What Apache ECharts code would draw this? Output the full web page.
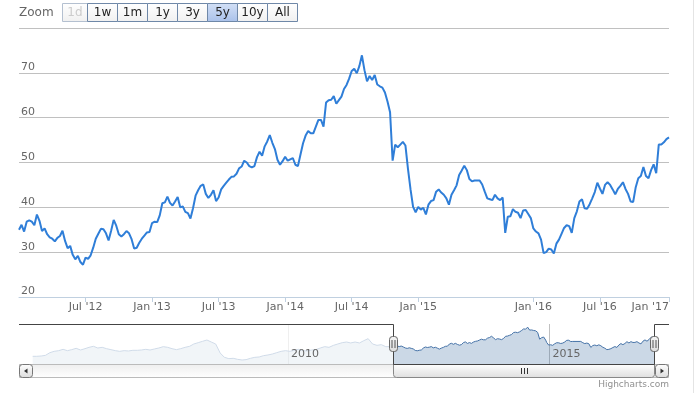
<!DOCTYPE html>
<html><head><meta charset="utf-8">
<script src="https://cdn.jsdelivr.net/npm/echarts@6/dist/echarts.min.js"></script>
<style>html,body{margin:0;padding:0;background:#fff}#c{width:695px;height:393px}</style>
</head><body><div id="c"></div>
<script>
// ---- weekly dates (ordinal axis, mid-2015 data gap) ----
const dates = [
'2012-01-06','2012-01-13','2012-01-20','2012-01-27','2012-02-03','2012-02-10','2012-02-17','2012-02-24','2012-03-02','2012-03-09','2012-03-16','2012-03-23','2012-03-30','2012-04-06','2012-04-13','2012-04-20','2012-04-27','2012-05-04','2012-05-11','2012-05-18','2012-05-25','2012-06-01','2012-06-08','2012-06-15','2012-06-22','2012-06-29','2012-07-06','2012-07-13','2012-07-20','2012-07-27','2012-08-03','2012-08-10','2012-08-17','2012-08-24','2012-08-31','2012-09-07','2012-09-14','2012-09-21','2012-09-28','2012-10-05','2012-10-12','2012-10-19','2012-10-26','2012-11-02','2012-11-09','2012-11-16','2012-11-23','2012-11-30','2012-12-07','2012-12-14','2012-12-21','2012-12-28',
'2013-01-04','2013-01-11','2013-01-18','2013-01-25','2013-02-01','2013-02-08','2013-02-15','2013-02-22','2013-03-01','2013-03-08','2013-03-15','2013-03-22','2013-03-29','2013-04-05','2013-04-12','2013-04-19','2013-04-26','2013-05-03','2013-05-10','2013-05-17','2013-05-24','2013-05-31','2013-06-07','2013-06-14','2013-06-21','2013-06-28','2013-07-05','2013-07-12','2013-07-19','2013-07-26','2013-08-02','2013-08-09','2013-08-16','2013-08-23','2013-08-30','2013-09-06','2013-09-13','2013-09-20','2013-09-27','2013-10-04','2013-10-11','2013-10-18','2013-10-25','2013-11-01','2013-11-08','2013-11-15','2013-11-22','2013-11-29','2013-12-06','2013-12-13','2013-12-20','2013-12-27',
'2014-01-03','2014-01-10','2014-01-17','2014-01-24','2014-01-31','2014-02-07','2014-02-14','2014-02-21','2014-02-28','2014-03-07','2014-03-14','2014-03-21','2014-03-28','2014-04-04','2014-04-11','2014-04-18','2014-04-25','2014-05-02','2014-05-09','2014-05-16','2014-05-23','2014-05-30','2014-06-06','2014-06-13','2014-06-20','2014-06-27','2014-07-04','2014-07-11','2014-07-18','2014-07-25','2014-08-01','2014-08-08','2014-08-15','2014-08-22','2014-08-29','2014-09-05','2014-09-12','2014-09-19','2014-09-26','2014-10-03','2014-10-10','2014-10-17','2014-10-24','2014-10-31','2014-11-07','2014-11-14','2014-11-21','2014-11-28','2014-12-05','2014-12-12','2014-12-19','2014-12-26',
'2015-01-02','2015-01-09','2015-01-16','2015-01-23','2015-01-30','2015-02-06','2015-02-13','2015-02-20','2015-02-27','2015-03-06','2015-03-13','2015-03-20','2015-03-27','2015-04-03','2015-04-10','2015-04-17','2015-04-24','2015-05-01','2015-05-08','2015-05-15','2015-05-22','2015-05-29','2015-06-05','2015-06-12','2015-08-07','2015-08-14','2015-08-21','2015-08-28','2015-09-04','2015-09-11','2015-09-18','2015-09-25','2015-10-02','2015-10-09','2015-10-16','2015-10-23','2015-10-30','2015-11-06','2015-11-13','2015-11-20','2015-11-27','2015-12-04','2015-12-11','2015-12-18','2015-12-25',
'2016-01-01','2016-01-08','2016-01-15','2016-01-22','2016-01-29','2016-02-05','2016-02-12','2016-02-19','2016-02-26','2016-03-04','2016-03-11','2016-03-18','2016-03-25','2016-04-01','2016-04-08','2016-04-15','2016-04-22','2016-04-29','2016-05-06','2016-05-13','2016-05-20','2016-05-27','2016-06-03','2016-06-10','2016-06-17','2016-06-24','2016-07-01','2016-07-08','2016-07-15','2016-07-22','2016-07-29','2016-08-05','2016-08-12','2016-08-19','2016-08-26','2016-09-02','2016-09-09','2016-09-16','2016-09-23','2016-09-30','2016-10-07','2016-10-14','2016-10-21','2016-10-28','2016-11-04','2016-11-11','2016-11-18','2016-11-25','2016-12-02','2016-12-09','2016-12-16','2016-12-23','2016-12-30',
'2017-01-06'];

const prices = [
35.0,36.1,34.6,36.8,37.1,36.8,36.0,38.4,37.0,34.7,
35.3,34.0,33.3,33.0,32.4,33.2,33.6,34.8,32.5,30.9,
31.4,29.4,28.4,29.2,27.8,27.2,28.8,28.5,29.3,31.0,
33.0,34.1,35.2,35.1,34.2,32.6,34.8,37.2,35.9,34.0,
33.5,34.0,34.7,34.2,32.9,30.8,31.0,32.1,33.0,33.7,
34.4,34.5,36.5,36.8,36.7,38.2,40.9,41.1,42.4,41.0,
40.4,41.3,42.3,40.0,40.2,39.0,38.7,37.5,39.8,42.6,
43.8,44.8,45.1,43.0,42.1,42.8,43.8,41.4,42.2,44.0,
44.8,45.5,46.2,46.8,46.9,47.5,48.7,49.1,50.4,50.0,
49.2,48.9,49.2,51.2,52.4,51.5,53.6,54.7,56.1,54.4,
53.0,50.6,49.5,50.3,51.3,50.4,50.7,51.0,49.5,49.2,
51.8,54.3,56.0,57.0,56.5,56.5,58.0,59.5,59.5,58.0,
63.4,63.9,64.0,64.8,63.1,63.9,64.7,66.4,67.3,68.7,
70.4,70.9,69.9,71.5,73.9,70.6,68.1,69.3,68.4,69.5,
67.4,67.0,66.7,65.6,63.6,61.2,50.4,54.0,53.4,54.0,
54.6,53.8,48.6,44.0,40.1,38.9,40.1,39.5,39.9,38.4,
40.6,41.4,41.6,43.5,44.0,43.3,42.8,42.0,40.6,42.8,
43.8,44.9,47.2,48.2,49.3,48.3,46.3,45.8,46.0,46.0,
46.0,45.1,43.5,42.0,41.8,41.6,42.8,42.0,41.6,42.2,
34.3,37.9,38.0,39.6,39.0,38.8,37.6,39.3,39.4,38.5,
37.6,35.3,34.6,34.2,32.8,29.8,30.0,30.8,30.6,29.7,
31.9,32.8,34.1,35.4,36.0,35.8,34.3,37.6,39.1,41.3,
41.8,39.8,39.7,40.7,42.0,43.4,45.5,44.2,43.0,45.0,
45.6,45.0,44.0,42.9,44.1,44.8,45.6,44.1,43.0,41.3,
41.2,44.5,46.5,47.0,49.0,47.0,46.5,48.3,49.6,47.6,
54.0,54.0,54.5,55.2,55.6];

// ---- navigator history before the selected window (monthly) ----
const navEarlyDates = [
'2005-02-15','2005-03-15','2005-04-15','2005-05-15','2005-06-15','2005-07-15','2005-08-15','2005-09-15','2005-10-15','2005-11-15','2005-12-15',
'2006-01-15','2006-02-15','2006-03-15','2006-04-15','2006-05-15','2006-06-15','2006-07-15','2006-08-15','2006-09-15','2006-10-15','2006-11-15','2006-12-15',
'2007-01-15','2007-02-15','2007-03-15','2007-04-15','2007-05-15','2007-06-15','2007-07-15','2007-08-15','2007-09-15','2007-10-15','2007-11-15','2007-12-15',
'2008-01-15','2008-02-15','2008-03-15','2008-04-15','2008-05-15','2008-06-15','2008-07-15','2008-08-15','2008-09-15','2008-10-15','2008-11-15','2008-12-15',
'2009-01-15','2009-02-15','2009-03-15','2009-04-15','2009-05-15','2009-06-15','2009-07-15','2009-08-15','2009-09-15','2009-10-15','2009-11-15','2009-12-15',
'2010-01-15','2010-02-15','2010-03-15','2010-04-15','2010-05-15','2010-06-15','2010-07-15','2010-08-15','2010-09-15','2010-10-15','2010-11-15','2010-12-15',
'2011-01-15','2011-02-15','2011-03-15','2011-04-15','2011-05-15','2011-06-15','2011-07-15','2011-08-15','2011-09-15','2011-10-15','2011-11-15','2011-12-15'];
const navEarlyValues = [
17.0,17.0,17.6,18.9,24.1,26.7,28.0,30.6,28.0,30.0,
32.6,29.3,31.9,34.5,36.5,33.2,34.5,31.9,30.0,28.0,
26.7,28.0,27.4,28.7,28.7,29.3,30.6,29.3,31.3,33.2,
35.8,34.5,31.9,30.0,31.9,34.5,36.5,41.0,43.6,46.2,
48.8,44.9,41.0,23.5,15.0,12.4,13.1,11.1,9.8,10.5,
13.1,15.0,15.7,18.3,19.6,21.5,24.1,26.7,28.0,26.7,
28.7,30.6,28.0,27.4,29.3,30.0,33.2,35.8,34.5,38.4,
41.0,43.6,44.9,43.0,44.9,43.0,47.5,51.4,41.0,38.4,
39.7,35.8,36.0];

const navStart = '2005-02-10';
const navYearLines = ['2010-01-01','2015-01-01'];
const zoomButtons = ['1d','1w','1m','1y','3y','5y','10y','All'];
const selectedButton = '5y';
const disabledButton = '1d';
const monthNames = {'01':'Jan','07':'Jul'};

const FONT = 'DejaVu Sans';
const chart = echarts.init(document.getElementById('c'), null, {renderer:'canvas'});

function isHalfYear(index){
  if (index === 0) return false;
  const m = dates[index].slice(5,7);
  return (m === '01' || m === '07') && dates[index-1].slice(5,7) !== m;
}
function fmtLabel(v){
  return monthNames[v.slice(5,7)] + " '" + v.slice(2,4);
}
const T = d => echarts.time.parse(d).getTime();

const navData = navEarlyDates.map((d,i)=>[T(d), navEarlyValues[i]])
  .concat(dates.map((d,i)=>[T(d), prices[i]]));
const tMin = T(navStart);
const tMax = T(dates[dates.length-1]);
const yearTicks = navYearLines.map(T);

chart.setOption({
  animation:false,
  textStyle:{fontFamily:FONT},
  grid:[
    {left:19, right:26, top:28, height:269},
    {left:32, right:40, top:324, height:40}
  ],
  xAxis:[
    {type:'category', gridIndex:0, data:dates, boundaryGap:false,
     axisLine:{lineStyle:{color:'#C0D0E0'}},
     axisTick:{interval:isHalfYear, length:5, lineStyle:{color:'#C0D0E0'}},
     axisLabel:{interval:isHalfYear, formatter:fmtLabel, margin:5, color:'#666', fontSize:11, fontFamily:FONT, alignMaxLabel:'right'},
     splitLine:{show:false}},
    {type:'value', gridIndex:1, min:tMin, max:tMax, position:'bottom', scale:true,
     axisLine:{show:false}, axisTick:{show:false, customValues:yearTicks},
     axisLabel:{show:false}, splitLine:{show:true, lineStyle:{color:'#C0C0C0'}}},
    {type:'value', gridIndex:1, min:tMin, max:tMax, position:'bottom', scale:true, z:10,
     axisLine:{show:false}, axisTick:{show:false, customValues:yearTicks}, splitLine:{show:false},
     axisLabel:{customValues:yearTicks, inside:true, margin:4, align:'left', padding:[0,0,0,3],
       formatter:v => String(new Date(v).getFullYear()), color:'#666', fontSize:11, fontFamily:FONT}}
  ],
  yAxis:[
    {type:'value', gridIndex:0, min:20, max:80, interval:10,
     axisLine:{show:false}, axisTick:{show:false},
     axisLabel:{inside:true, margin:2, verticalAlign:'bottom', showMaxLabel:false, color:'#666', fontSize:11, fontFamily:FONT},
     splitLine:{lineStyle:{color:'#C0C0C0'}}},
    {type:'value', gridIndex:1, min:2, max:80, show:false, splitLine:{show:false}}
  ],
  series:[
    {type:'line', xAxisIndex:0, yAxisIndex:0, data:prices, showSymbol:false,
     lineStyle:{color:'#2f7ed8', width:2}, z:3},
    {type:'line', xAxisIndex:1, yAxisIndex:1, data:navData, showSymbol:false,
     lineStyle:{color:'#4572A7', width:1}, areaStyle:{color:'rgba(69,114,167,0.4)'}, z:2}
  ]
});

// ---- navigator mask, outline, handles, scrollbar, range selector ----
const xL = Math.round(chart.convertToPixel({xAxisIndex:1}, T(dates[0]))) + 0.5;
const xR = Math.round(chart.convertToPixel({xAxisIndex:1}, tMax)) - 0.5;
const navTop = 324, navBot = 364, sbTop = 364.5, sbBot = 377.5, leftEdge = 19, rightEdge = 669;
const navLeft = 32, navRight = 655;

function grad(a,b){ return new echarts.graphic.LinearGradient(0,0,0,1,[{offset:0,color:a},{offset:1,color:b}]); }
const g = [];
g.push({type:'rect', z:5, silent:true, shape:{x:navLeft, y:navTop, width:xL-navLeft, height:navBot-navTop}, style:{fill:'rgba(255,255,255,0.75)'}});
g.push({type:'rect', z:6, shape:{x:leftEdge+0.5, y:sbTop, width:rightEdge-leftEdge-1, height:sbBot-sbTop}, style:{fill:grad('#eeeeee','#ffffff'), stroke:'#bbbbbb', lineWidth:1}});
g.push({type:'rect', z:7, shape:{x:xL, y:sbTop, width:xR-xL, height:sbBot-sbTop, r:[0,0,3,3]}, style:{fill:grad('#ffffff','#dedede'), stroke:'#888888', lineWidth:1}});
const cx = Math.round((xL+xR)/2)+0.5;
[-3,0,3].forEach(d=>g.push({type:'line', z:8, shape:{x1:cx+d, y1:368, x2:cx+d, y2:374}, style:{stroke:'#333', lineWidth:1}}));
[[leftEdge+0.5, -1],[navRight+0.5, 1]].forEach(([bx,dir])=>{
  g.push({type:'rect', z:8, shape:{x:bx, y:sbTop, width:13, height:sbBot-sbTop, r:3}, style:{fill:grad('#ffffff','#dcdcdc'), stroke:'#777', lineWidth:1}});
  const mx = bx+6.5, my = 371;
  g.push({type:'polygon', z:9, shape:{points: dir<0 ? [[mx-2,my],[mx+1.5,my-2.5],[mx+1.5,my+2.5]] : [[mx+2,my],[mx-1.5,my-2.5],[mx-1.5,my+2.5]]}, style:{fill:'#333'}});
});
g.push({type:'polyline', z:9, shape:{points:[[leftEdge,navTop+0.5],[xL,navTop+0.5],[xL,sbTop],[xR,sbTop],[xR,navTop+0.5],[rightEdge,navTop+0.5]]}, style:{stroke:'#444', lineWidth:1, fill:null}});
[xL,xR].forEach(hx=>{
  g.push({type:'rect', z:10, shape:{x:hx-4, y:336.5, width:8, height:15, r:3}, style:{fill:grad('#f4f4f4','#dcdcdc'), stroke:'#666', lineWidth:1}});
  [-1.5,1.5].forEach(d=>g.push({type:'line', z:11, shape:{x1:hx+d, y1:340, x2:hx+d, y2:348}, style:{stroke:'#555', lineWidth:1}}));
});
g.push({type:'text', z:5, style:{x:19, y:13, text:'Zoom', fill:'#666', font:'12px "DejaVu Sans"', verticalAlign:'middle'}});
let bx = 62.5;
zoomButtons.forEach((b,i)=>{
  const w = i===0 ? 25 : 30;
  const sel = b===selectedButton, dis = b===disabledButton;
  g.push({type:'rect', z:5, shape:{x:bx, y:3.5, width:w, height:18}, style:{fill: sel ? grad('#d3e0f6','#a9c1ea') : grad('#ffffff','#f0f0f0'), stroke: dis ? '#b4c0d0' : '#6f88a8', lineWidth:1}});
  g.push({type:'text', z:6, style:{x:bx+w/2, y:13, text:b, fill: dis ? '#cccccc' : '#222', font:'12px "DejaVu Sans"', align:'center', verticalAlign:'middle'}});
  bx += w;
});
g.push({type:'text', z:5, style:{x:669, y:385, text:'Highcharts.com', fill:'#909090', font:'9px "DejaVu Sans"', align:'right', verticalAlign:'middle'}});
g.push({type:'line', z:5, shape:{x1:693.5, y1:0, x2:693.5, y2:393}, style:{stroke:'#e4e4e4', lineWidth:1}});

chart.setOption({graphic:g});
</script></body></html>
